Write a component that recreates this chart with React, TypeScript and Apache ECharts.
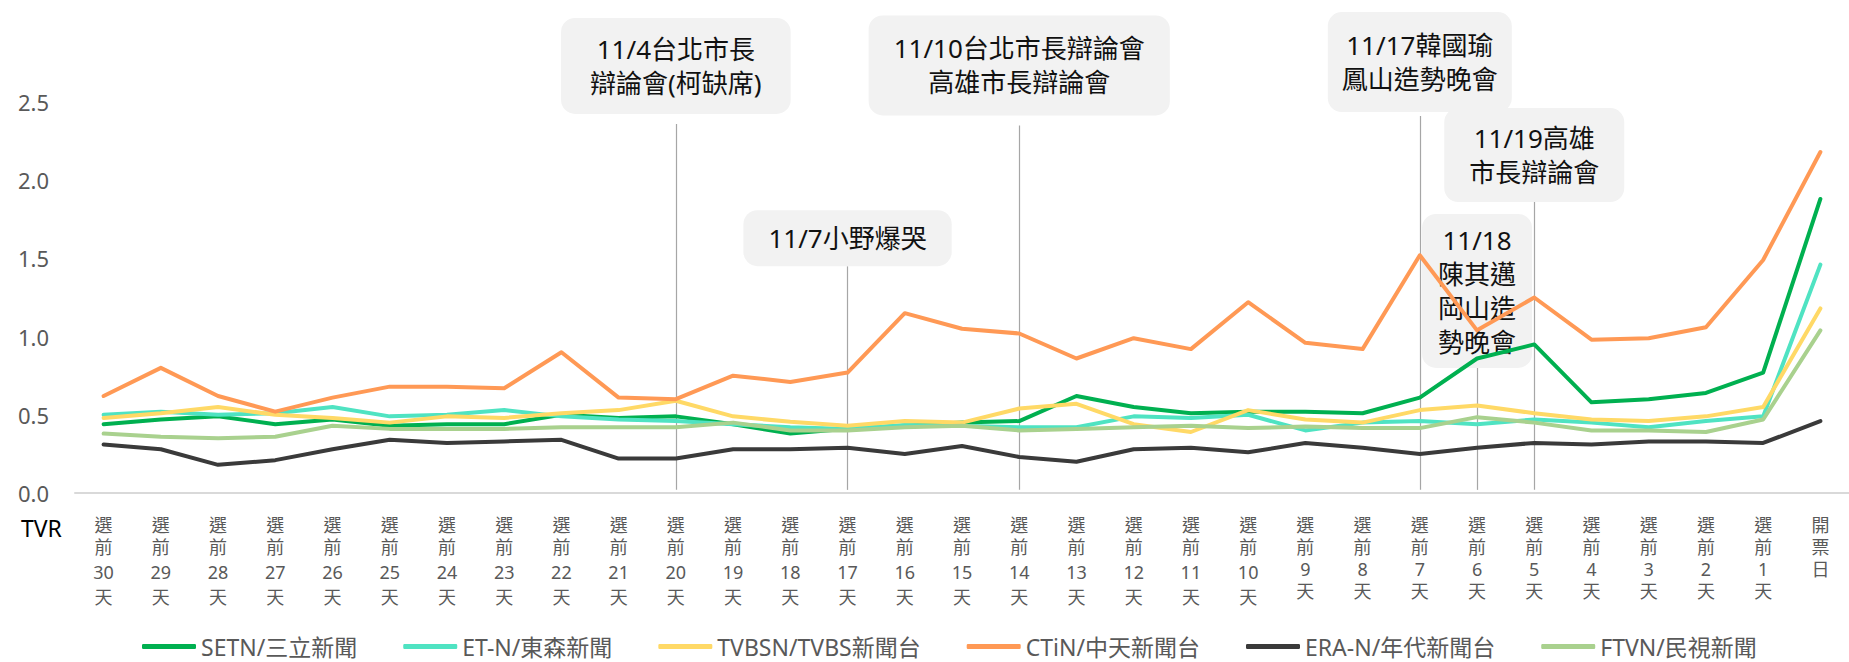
import React, { useEffect, useRef } from 'react';
import * as echarts from 'echarts';

const categories = [
  '選前30天', '選前29天', '選前28天', '選前27天', '選前26天', '選前25天', '選前24天', '選前23天',
  '選前22天', '選前21天', '選前20天', '選前19天', '選前18天', '選前17天', '選前16天', '選前15天',
  '選前14天', '選前13天', '選前12天', '選前11天', '選前10天', '選前9天', '選前8天', '選前7天',
  '選前6天', '選前5天', '選前4天', '選前3天', '選前2天', '選前1天', '開票日',
];

const seriesNames = [
  'SETN/三立新聞', 'ET-N/東森新聞', 'TVBSN/TVBS新聞台', 'CTiN/中天新聞台', 'ERA-N/年代新聞台', 'FTVN/民視新聞',
];

const setn = [0.44, 0.47, 0.49, 0.44, 0.47, 0.43, 0.44, 0.44, 0.50, 0.48, 0.49, 0.44, 0.38, 0.41, 0.43, 0.45,
  0.46, 0.62, 0.55, 0.51, 0.52, 0.52, 0.51, 0.61, 0.86, 0.95, 0.58, 0.60, 0.64, 0.77, 1.88];
const etn = [0.50, 0.52, 0.50, 0.51, 0.55, 0.49, 0.50, 0.53, 0.49, 0.47, 0.46, 0.44, 0.42, 0.41, 0.435, 0.43,
  0.42, 0.42, 0.49, 0.48, 0.50, 0.40, 0.45, 0.46, 0.44, 0.47, 0.45, 0.42, 0.46, 0.49, 1.46];
const tvbsn = [0.48, 0.51, 0.55, 0.50, 0.48, 0.45, 0.49, 0.48, 0.51, 0.53, 0.59, 0.49, 0.455, 0.43, 0.46, 0.45,
  0.54, 0.57, 0.44, 0.39, 0.53, 0.47, 0.45, 0.53, 0.56, 0.51, 0.47, 0.46, 0.49, 0.55, 1.18];
const ctin = [0.62, 0.80, 0.62, 0.52, 0.61, 0.68, 0.68, 0.67, 0.90, 0.61, 0.60, 0.75, 0.71, 0.77, 1.15, 1.05,
  1.02, 0.86, 0.99, 0.92, 1.22, 0.96, 0.92, 1.52, 1.04, 1.25, 0.98, 0.99, 1.06, 1.49, 2.18];
const eran = [0.31, 0.28, 0.18, 0.21, 0.28, 0.34, 0.32, 0.33, 0.34, 0.22, 0.22, 0.28, 0.28, 0.29, 0.25, 0.30,
  0.23, 0.20, 0.28, 0.29, 0.26, 0.32, 0.29, 0.25, 0.29, 0.32, 0.31, 0.33, 0.33, 0.32, 0.46];
const ftvn = [0.38, 0.36, 0.35, 0.36, 0.43, 0.41, 0.41, 0.41, 0.42, 0.42, 0.42, 0.45, 0.40, 0.40, 0.42, 0.43,
  0.40, 0.41, 0.42, 0.43, 0.415, 0.425, 0.415, 0.415, 0.485, 0.45, 0.40, 0.40, 0.39, 0.47, 1.04];

const seriesValues = [setn, etn, tvbsn, ctin, eran, ftvn];

// Event annotations: day (category) and text
const eventDays = ['選前20天', '選前17天', '選前14天', '選前7天', '選前6天', '選前5天'];
const eventTexts = [
  '11/4台北市長\n辯論會(柯缺席)',
  '11/7小野爆哭',
  '11/10台北市長辯論會\n高雄市長辯論會',
  '11/17韓國瑜\n鳳山造勢晚會',
  '11/18\n陳其邁\n岡山造\n勢晚會',
  '11/19高雄\n市長辯論會',
];

// Layout of the callouts (line top in axis units, label gap, padding)
const calloutLayout = [
  { top: 2.36, gap: 10, pad: [14, 29] },
  { top: 1.45, gap: 0, pad: [11, 25] },
  { top: 2.35, gap: 10, pad: [16, 25] },
  { top: 2.41, gap: 4, pad: [16, 14] },
  { top: 0.80, gap: 0, pad: [9, 16] },
  { top: 1.86, gap: 0, pad: [13, 25] },
];

const colors = ['#00B050', '#4FE3C2', '#FFD966', '#FF9955', '#3A3A3A', '#A9D18E'];
const FONT = "'Noto Sans', 'Noto Sans CJK TC', sans-serif";

export default function App() {
  const ref = useRef<HTMLDivElement>(null);

  useEffect(() => {
    document.body.style.margin = '0';
    if (!ref.current) return;
    const chart = echarts.init(ref.current, null, { renderer: 'svg' });

    const lineSeries = seriesNames.map((name, i) => ({
      name,
      type: 'line',
      data: seriesValues[i],
      symbol: 'none',
      z: 2,
      lineStyle: { width: 4, color: colors[i], cap: 'round', join: 'round' },
      itemStyle: { color: colors[i] },
      emphasis: { disabled: true },
    }));

    const markData = eventDays.map((day, i) => {
      const idx = categories.indexOf(day);
      const lay = calloutLayout[i];
      return [
        {
          coord: [idx, 0.02],
          label: {
            show: true,
            position: 'end',
            formatter: eventTexts[i],
            distance: lay.gap,
            padding: lay.pad,
          },
        },
        { coord: [idx, lay.top] },
      ];
    });

    chart.setOption({
      animation: false,
      grid: { left: 75, right: 0, top: 102, bottom: 169 },
      xAxis: {
        type: 'category',
        data: categories,
        boundaryGap: true,
        axisLine: { show: true, lineStyle: { color: '#D9D9D9', width: 2 } },
        axisTick: { show: false },
        splitLine: { show: false },
        axisLabel: {
          interval: 0,
          margin: 21,
          color: '#595959',
          fontSize: 18,
          lineHeight: 22,
          fontFamily: FONT,
          formatter: (v: string) => {
            if (v.startsWith('選前')) {
              const d = v.slice(2, -1);
              return `選\n前\n{${d.length > 1 ? 'd2' : 'd1'}|${d}}\n天`;
            }
            return v.split('').join('\n');
          },
          rich: {
            d2: { fontSize: 18, lineHeight: 28, color: '#595959', fontFamily: FONT },
            d1: { fontSize: 18, lineHeight: 22, color: '#595959', fontFamily: FONT },
          },
        },
      },
      yAxis: {
        type: 'value',
        min: 0,
        max: 2.5,
        interval: 0.5,
        axisLine: { show: false },
        axisTick: { show: false },
        splitLine: { show: false },
        axisLabel: {
          formatter: (v: number) => v.toFixed(1),
          color: '#595959',
          fontSize: 22,
          margin: 26,
          fontFamily: FONT,
        },
      },
      legend: {
        data: seriesNames,
        left: 137,
        top: 630,
        icon: 'roundRect',
        itemWidth: 54,
        itemHeight: 5,
        itemGap: 46,
        textStyle: { fontSize: 23, color: '#595959', fontFamily: FONT },
      },
      graphic: [
        {
          type: 'text',
          left: 21,
          top: 516,
          style: { text: 'TVR', fontSize: 23, fill: '#000000', fontFamily: FONT },
        },
      ],
      series: [
        {
          name: 'events',
          type: 'line',
          data: [],
          symbol: 'none',
          z: 1,
          markLine: {
            silent: true,
            z: 1,
            symbol: ['none', 'none'],
            lineStyle: { color: '#A6A6A6', width: 1.2, type: 'solid' },
            emphasis: { disabled: true },
            label: {
              show: true,
              position: 'end',
              color: '#111111',
              fontSize: 26,
              lineHeight: 34,
              fontFamily: FONT,
              backgroundColor: '#F2F2F2',
              borderRadius: 14,
              align: 'center',
            },
            data: markData,
          },
        },
        ...lineSeries,
      ],
    });

    return () => chart.dispose();
  }, []);

  return <div ref={ref} style={{ width: 1849, height: 662 }} />;
}
